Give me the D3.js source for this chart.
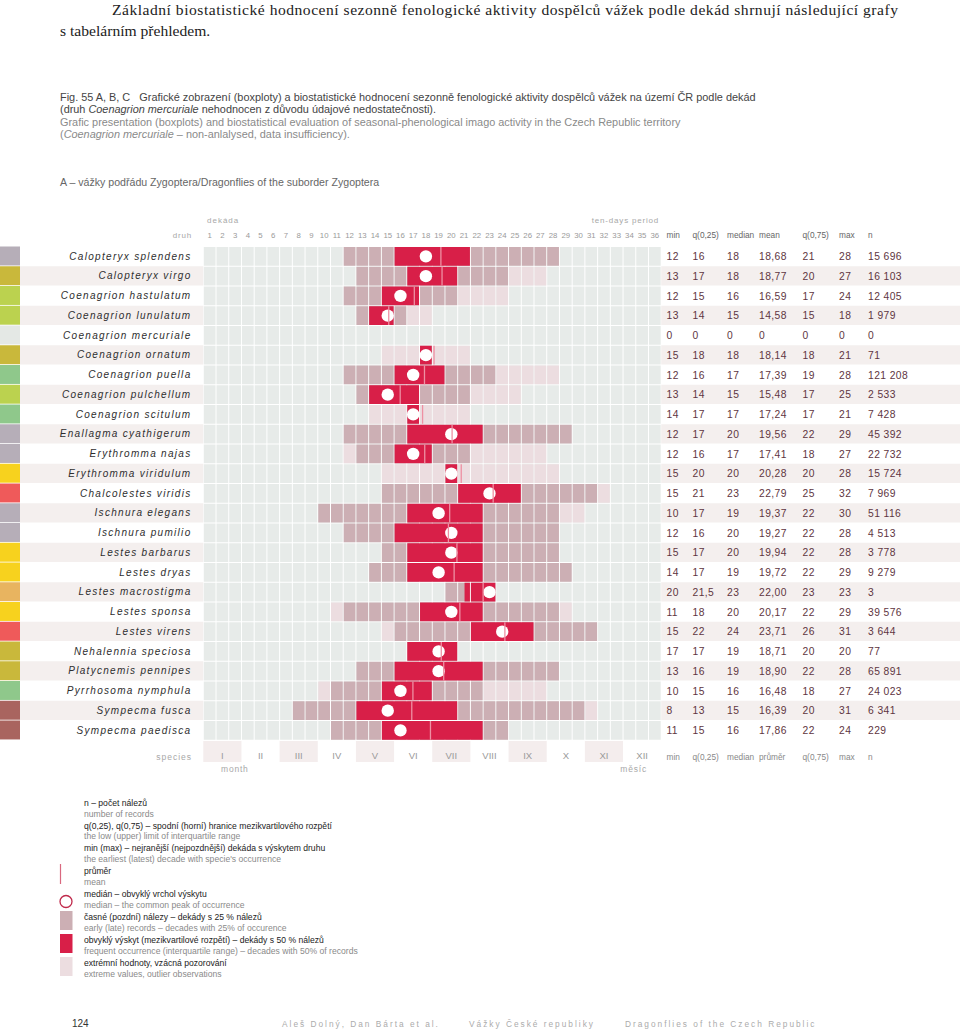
<!DOCTYPE html>
<html><head><meta charset="utf-8">
<script src="https://cdn.jsdelivr.net/npm/d3@7"></script>
<style>
body{margin:0;background:#fff;}
svg{display:block;font-family:"Liberation Sans",Arial,Helvetica,sans-serif;}
</style></head><body>
<svg id="c" width="960" height="1029"></svg>
<script>
// ---------------- DATA ----------------
const species = ["Calopteryx splendens","Calopteryx virgo","Coenagrion hastulatum","Coenagrion lunulatum","Coenagrion mercuriale","Coenagrion ornatum","Coenagrion puella","Coenagrion pulchellum","Coenagrion scitulum","Enallagma cyathigerum","Erythromma najas","Erythromma viridulum","Chalcolestes viridis","Ischnura elegans","Ischnura pumilio","Lestes barbarus","Lestes dryas","Lestes macrostigma","Lestes sponsa","Lestes virens","Nehalennia speciosa","Platycnemis pennipes","Pyrrhosoma nymphula","Sympecma fusca","Sympecma paedisca"];
const habitatGroup = ["a","b","c","c","e","b","d","c","d","a","a","f","g","a","a","f","f","h","f","g","b","b","d","i","i"];
const minDec    = [12,13,12,13,0,15,12,13,14,12,12,15,15,10,12,15,14,20,11,15,17,13,10,8,11];
const q25Dec    = [16,17,15,14,0,18,16,14,17,17,16,20,21,17,16,17,17,21.5,18,22,17,16,15,13,15];
const medianDec = [18,18,16,15,0,18,17,15,17,20,17,20,23,19,20,20,19,23,20,24,19,19,16,15,16];
const meanDec   = [18.68,18.77,16.59,14.58,0,18.14,17.39,15.48,17.24,19.56,17.41,20.28,22.79,19.37,19.27,19.94,19.72,22.00,20.17,23.71,18.71,18.90,16.48,16.39,17.86];
const q75Dec    = [21,20,17,15,0,18,19,17,17,22,18,20,25,22,22,22,22,23,22,26,20,22,18,20,22];
const maxDec    = [28,27,24,18,0,21,28,25,21,29,27,28,32,30,28,28,29,23,29,31,20,28,27,31,24];
const nRecords  = [15696,16103,12405,1979,0,71,121208,2533,7428,45392,22732,15724,7969,51116,4513,3778,9279,3,39576,3644,77,65891,24023,6341,229];
// decades with 25 % records (early / late whiskers)
const whiskerLo = [12,13,12,13,0,18,12,13,17,12,13,20,15,10,12,15,14,20,12,16,17,13,11,8,11];
const whiskerHi = [28,24,20,16,0,18,23,21,17,29,21,20,31,28,28,28,29,23,28,31,20,28,22,30,24];
const decadeTicks = d3.range(1,37);
const monthLabels = ["I","II","III","IV","V","VI","VII","VIII","IX","X","XI","XII"];
const statHeadersTop = ["min","q(0,25)","median","mean","q(0,75)","max","n"];
const statHeadersBottom = ["min","q(0,25)","median","průměr","q(0,75)","max","n"];

// ---------------- SETUP ----------------
const svg = d3.select("#c");
const C = {
  cell:"#e7ebe9", outlier:"#ecdde0", early:"#ccafb4", freq:"#d81f48",
  band:"#f4efee", mean:"#ee90a3", text:"#333", grey:"#888", light:"#a8a8a8", num:"#5e3541"
};
const groupColor = d3.scaleOrdinal()
  .domain(["a","b","c","d","e","f","g","h","i"])
  .range(["#b6aeb8","#c9b83b","#bbd24f","#8fc88b","#e4e8e5","#f7d21e","#ef5a5a","#e8b460","#a9645f"]);

const x = d3.scaleLinear().domain([0,36]).range([203.3,661.2]);
const colBand = d3.scaleBand().domain(decadeTicks).range([203.3,661.2]);
const monthBand = d3.scaleBand().domain(monthLabels).range([203.3,661.2]);
const y = d3.scaleBand().domain(species).range([246.5,740.25]);
const bw = y.bandwidth();
const fmt = d3.formatLocale({decimal:",",thousands:"\u00a0",grouping:[3],currency:["",""]});
const fInt = fmt.format(",d"), f2 = fmt.format(".2f"), f1 = fmt.format(".1f");
const fq = v => Number.isInteger(v) ? fInt(v) : f1(v);

// ---------------- TEXT AT TOP ----------------
svg.append("text").attr("x",112).attr("y",15).attr("textLength",786).attr("lengthAdjust","spacing")
  .style("font-family","'Liberation Serif','Times New Roman',serif").style("font-size","15.6px").attr("fill","#222")
  .text("Základní biostatistické hodnocení sezonně fenologické aktivity dospělců vážek podle dekád shrnují následující grafy");
svg.append("text").attr("x",60).attr("y",35.5)
  .style("font-family","'Liberation Serif','Times New Roman',serif").style("font-size","15.6px").attr("fill","#222")
  .text("s tabelárním přehledem.");

const cap = svg.append("g").style("font-size","10.9px");
cap.append("text").attr("x",60).attr("y",101).attr("fill","#444")
  .text("Fig. 55 A, B, C \u00a0 Grafické zobrazení (boxploty) a biostatistické hodnocení sezonně fenologické aktivity dospělců vážek na území ČR podle dekád");
const c2 = cap.append("text").attr("x",60).attr("y",113).attr("fill","#444");
c2.append("tspan").text("(druh ");
c2.append("tspan").style("font-style","italic").text("Coenagrion mercuriale");
c2.append("tspan").text(" nehodnocen z  důvodu údajové nedostatečnosti).");
cap.append("text").attr("x",60).attr("y",125.5).attr("fill","#8a8a8a")
  .text("Grafic presentation (boxplots) and biostatistical evaluation of seasonal-phenological imago activity in the Czech Republic territory");
const c4 = cap.append("text").attr("x",60).attr("y",138).attr("fill","#8a8a8a");
c4.append("tspan").text("(");
c4.append("tspan").style("font-style","italic").text("Coenagrion mercuriale");
c4.append("tspan").text(" – non-anlalysed, data insufficiency).");

svg.append("text").attr("x",60).attr("y",185.5).attr("fill","#666").style("font-size","10.6px")
  .text("A – vážky podřádu Zygoptera/Dragonflies of the suborder Zygoptera");

// ---------------- HEADER ----------------
svg.append("text").attr("x",207).attr("y",222.5).attr("fill",C.light).style("font-size","8px").style("letter-spacing","1px").text("dekáda");
svg.append("text").attr("x",659).attr("y",222.5).attr("text-anchor","end").attr("fill",C.light).style("font-size","8px").style("letter-spacing","0.8px").text("ten-days period");
svg.append("text").attr("x",192).attr("y",237.5).attr("text-anchor","end").attr("fill",C.light).style("font-size","8px").style("letter-spacing","0.8px").text("druh");

const topAxis = svg.append("g").attr("transform","translate(0,240.5)")
  .call(d3.axisTop(colBand).tickSize(0).tickPadding(3));
topAxis.select(".domain").remove();
topAxis.selectAll("text").attr("fill","#9a9a9a").style("font-size","7.8px").style("font-family","'Liberation Sans',Arial,sans-serif");

const statX = [666.5,692.5,727,759,802.5,839,868];
svg.append("g").selectAll("text").data(statHeadersTop).join("text")
  .attr("x",(d,i)=>statX[i]).attr("y",237.5).attr("fill","#666").style("font-size","8.3px").text(d=>d);

// ---------------- ROW BANDS & STRIP ----------------
svg.append("g").selectAll("rect").data(species.filter((d,i)=>i%2===1)).join("rect")
  .attr("x",20).attr("width",183.3).attr("y",d=>y(d)).attr("height",bw-0.5).attr("fill",C.band);
svg.append("g").selectAll("rect").data(species.filter((d,i)=>i%2===1)).join("rect")
  .attr("x",661.2).attr("width",298.8).attr("y",d=>y(d)).attr("height",bw-0.5).attr("fill",C.band);
svg.append("g").selectAll("rect").data(species).join("rect")
  .attr("x",0).attr("width",20).attr("y",d=>y(d)).attr("height",bw-0.8)
  .attr("fill",(d,i)=>groupColor(habitatGroup[i]));

// ---------------- GRID ----------------
const grid = svg.append("g");
species.forEach((s,i)=>{
  const row = grid.append("g");
  const cy = y(s);
  row.selectAll("rect.bg").data(decadeTicks).join("rect").attr("class","bg")
    .attr("x",c=>x(c-1)+0.5).attr("width",c=>x(c)-x(c-1)-1).attr("y",cy+0.5).attr("height",bw-1).attr("fill",C.cell);
  if(nRecords[i]===0) return;
  const outl = decadeTicks.filter(c=>c>=minDec[i] && c<=maxDec[i] && (c<whiskerLo[i] || c>whiskerHi[i]));
  row.selectAll("rect.out").data(outl).join("rect").attr("class","out")
    .attr("x",c=>x(c-1)+0.5).attr("width",c=>x(c)-x(c-1)-1).attr("y",cy+0.5).attr("height",bw-1).attr("fill",C.outlier);
  const early = decadeTicks.filter(c=>c>=whiskerLo[i] && c<=whiskerHi[i]);
  row.selectAll("rect.early").data(early).join("rect").attr("class","early")
    .attr("x",c=>x(c-1)+0.5).attr("width",c=>x(c)-x(c-1)-1).attr("y",cy+0.5).attr("height",bw-1).attr("fill",C.early);
  // interquartile block
  const lo = q25Dec[i]-1, hi = q75Dec[i];
  const segs = Number.isInteger(lo) ? [[lo,hi]] : [[lo,Math.ceil(lo)],[Math.ceil(lo),hi]];
  row.selectAll("rect.freq").data(segs).join("rect").attr("class","freq")
    .attr("x",d=>x(d[0])+0.5).attr("width",d=>x(d[1])-x(d[0])-1).attr("y",cy+0.5).attr("height",bw-1).attr("fill",C.freq);
  row.append("circle").attr("cx",x(medianDec[i]-0.5)).attr("cy",cy+bw/2).attr("r",6.2).attr("fill","#fff");
  row.append("line").attr("x1",x(meanDec[i])).attr("x2",x(meanDec[i])).attr("y1",cy+0.5).attr("y2",cy+bw-0.5)
    .attr("stroke",C.mean).attr("stroke-width",1.3);
});

// species labels
const leftAxis = svg.append("g").attr("transform","translate(191.5,0)")
  .call(d3.axisLeft(y).tickSize(0).tickPadding(0));
leftAxis.select(".domain").remove();
leftAxis.selectAll("text").attr("fill","#2e2e2e").style("font-size","10px").style("font-style","italic")
  .style("letter-spacing","1.3px").style("font-family","'Liberation Sans',Arial,sans-serif");

// ---------------- STATS TABLE ----------------
const stats = svg.append("g").style("font-size","10.3px").attr("fill",C.num);
species.forEach((s,i)=>{
  const vals = nRecords[i]===0 ? ["0","0","0","0","0","0","0"] :
    [fInt(minDec[i]),fq(q25Dec[i]),fInt(medianDec[i]),f2(meanDec[i]),fInt(q75Dec[i]),fInt(maxDec[i]),fInt(nRecords[i])];
  stats.append("g").selectAll("text").data(vals).join("text")
    .attr("x",(d,k)=>statX[k]).attr("y",y(s)+bw/2+3.7).style("letter-spacing","0.4px").text(d=>d);
});

// ---------------- BOTTOM AXIS ----------------
svg.append("g").selectAll("rect").data(monthLabels.filter((d,i)=>i%2===0)).join("rect")
  .attr("x",d=>monthBand(d)).attr("width",monthBand.bandwidth()).attr("y",741).attr("height",21).attr("fill","#f4eded");
const botAxis = svg.append("g").attr("transform","translate(0,749.5)")
  .call(d3.axisBottom(monthBand).tickSize(0).tickPadding(3));
botAxis.select(".domain").remove();
botAxis.selectAll("text").attr("fill","#9a9a9a").style("font-size","9.5px").style("font-family","'Liberation Sans',Arial,sans-serif");
svg.append("text").attr("x",192).attr("y",760).attr("text-anchor","end").attr("fill",C.light).style("font-size","8.5px").style("letter-spacing","1px").text("species");
svg.append("text").attr("x",221).attr("y",772).attr("fill",C.light).style("font-size","8.5px").style("letter-spacing","0.8px").text("month");
svg.append("text").attr("x",647).attr("y",772).attr("text-anchor","end").attr("fill",C.light).style("font-size","8.5px").style("letter-spacing","0.8px").text("měsíc");
svg.append("g").selectAll("text").data(statHeadersBottom).join("text")
  .attr("x",(d,i)=>statX[i]).attr("y",760).attr("fill","#888").style("font-size","8.3px").text(d=>d);

// ---------------- LEGEND ----------------
const legendItems = [
  ["n – počet nálezů","number of records"],
  ["q(0,25), q(0,75) – spodní (horní) hranice mezikvartilového rozpětí","the low (upper) limit of interquartile range"],
  ["min (max) – nejranější (nejpozdnější) dekáda s výskytem druhu","the earliest (latest) decade with specie's occurrence"],
  ["průměr","mean"],
  ["medián – obvyklý vrchol výskytu","median – the common peak of occurrence"],
  ["časné (pozdní) nálezy – dekády s 25 % nálezů","early (late) records – decades with 25% of occurence"],
  ["obvyklý výskyt (mezikvartilové rozpětí) – dekády s 50 % nálezů","frequent occurrence (interquartile range) – decades with 50% of records"],
  ["extrémní hodnoty, vzácná pozorování","extreme values, outlier observations"]
];
const legTop = [806,828.5,851,874,897,920,943,966];
const leg = svg.append("g").style("font-size","8.6px");
legendItems.forEach((d,i)=>{
  leg.append("text").attr("x",84).attr("y",legTop[i]).attr("fill","#222").text(d[0]);
  leg.append("text").attr("x",84).attr("y",legTop[i]+10.5).attr("fill","#8a8a8a").text(d[1]);
});
leg.append("line").attr("x1",60.5).attr("x2",60.5).attr("y1",864).attr("y2",884).attr("stroke","#d9687f").attr("stroke-width",1.2);
leg.append("circle").attr("cx",66).attr("cy",901.5).attr("r",6).attr("fill","#fff").attr("stroke","#c02a4c").attr("stroke-width",1.3);
leg.append("rect").attr("x",60).attr("y",911).attr("width",12.5).attr("height",19).attr("fill",C.early);
leg.append("rect").attr("x",60).attr("y",934).attr("width",12.5).attr("height",19).attr("fill",C.freq);
leg.append("rect").attr("x",60).attr("y",957).attr("width",12.5).attr("height",19).attr("fill",C.outlier);

// ---------------- FOOTER ----------------
svg.append("text").attr("x",72).attr("y",1027).attr("fill","#333").style("font-size","10px").text("124");
const foot = svg.append("g").style("font-size","8.3px").attr("fill","#ababab").style("letter-spacing","2px");
foot.append("text").attr("x",282).attr("y",1027).text("Aleš Dolný, Dan Bárta et al.");
foot.append("text").attr("x",469).attr("y",1027).text("Vážky České republiky");
foot.append("text").attr("x",625).attr("y",1027).text("Dragonflies of the Czech Republic");
</script>
</body></html>
